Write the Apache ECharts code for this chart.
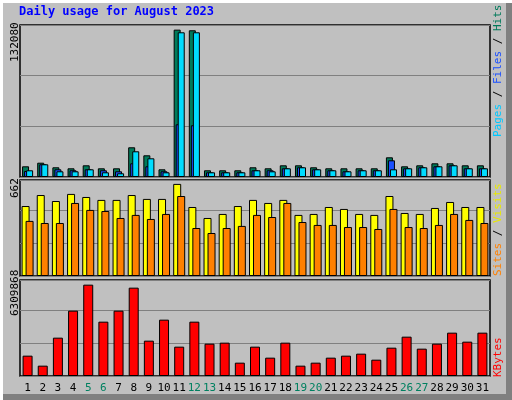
<!DOCTYPE html>
<html><head><meta charset="utf-8">
<script src="https://cdn.jsdelivr.net/npm/echarts@6/dist/echarts.min.js"></script>
<style>html,body{margin:0;padding:0;background:#fff}#c{width:512px;height:400px}</style>
</head><body><div id="c"></div>
<script>
const days = ['1','2','3','4','5','6','7','8','9','10','11','12','13','14','15','16','17','18','19','20','21','22','23','24','25','26','27','28','29','30','31'];
const weekendDays = ['5','6','12','13','19','20','26','27'];
const hits  = [9590,12820,8700,7800,10490,7800,7800,26630,19450,6900,132080,131520,6010,6010,6010,8700,7800,10490,10490,8700,7800,7800,7800,7800,17660,9590,10490,12280,12280,10490,10490];
const files = [5380,11390,6900,6010,6900,6010,5110,12280,9590,5110,47250,46350,4210,4210,4210,6010,6010,7800,8700,6900,6010,5110,6010,6010,14970,7800,8700,9590,10490,7800,7800];
const pages = [6010,11390,5110,5110,6900,4210,3320,23040,16760,4210,129720,129720,4210,4210,4210,6010,5110,7800,8700,6900,6010,5110,6010,6010,6900,7800,8700,9590,10490,7800,7800];
const visits = [503,582,539,590,568,547,547,582,554,554,662,496,417,446,503,547,525,547,439,446,496,482,446,439,575,453,446,489,532,496,496];
const sites  = [396,381,381,525,475,467,417,439,410,446,575,345,309,345,360,439,424,525,388,367,367,352,352,338,482,352,345,367,446,403,381];
const kbytes = [1405,714,2648,4514,6310,3754,4514,6103,2441,3892,2027,3754,2234,2303,921,2027,1267,2303,714,921,1267,1405,1543,1128,1957,2717,1888,2234,2994,2372,2994].map(v=>v*1000);
const maxLabels = ['132080','662','6309868'];
const title = 'Daily usage for August 2023';

const FONT = 'DejaVu Sans Mono';
const grids = [
  {left:20,right:22,top:25,height:152},
  {left:20,right:22,top:180,height:96},
  {left:20,right:22,top:280,height:96}
];
const maxes = [136250, 690, 6632000];
const intervals = [45717, 237.3, 2257000];
const chart = echarts.init(document.getElementById('c'));
const bs = {borderColor:'#000',borderWidth:1};
chart.setOption({
  animation:false,
  backgroundColor:'#ffffff',
  grid: grids.map(g=>Object.assign({show:true,backgroundColor:'#c0c0c0',borderColor:'#000',borderWidth:1.5},g)),
  xAxis: [0,1,2].map(i=>({type:'category',gridIndex:i,data:days,
    axisLine:{show:false},axisTick:{show:false},
    axisLabel:{show:i===2,fontFamily:FONT,fontSize:11,margin:7,interval:0,
      formatter:v=>weekendDays.includes(v)?'{w|'+v+'}':'{n|'+v+'}',
      rich:{w:{color:'#008060',fontFamily:FONT,fontSize:11},n:{color:'#000',fontFamily:FONT,fontSize:11}}}})),
  yAxis: [0,1,2].map(i=>({type:'value',gridIndex:i,min:0,max:maxes[i],interval:intervals[i],
    axisLine:{show:false},axisTick:{show:false},axisLabel:{show:false},
    splitLine:{lineStyle:{color:'#808080',width:1}}})),
  series:[
    {type:'bar',name:'Hits',xAxisIndex:0,yAxisIndex:0,data:hits,barWidth:7,barGap:'-71%',itemStyle:Object.assign({color:'#007a5a'},bs)},
    {type:'bar',name:'Files',xAxisIndex:0,yAxisIndex:0,data:files,barWidth:7,barGap:'-71%',itemStyle:Object.assign({color:'#1a4fff'},bs)},
    {type:'bar',name:'Pages',xAxisIndex:0,yAxisIndex:0,data:pages,barWidth:7,barGap:'-71%',itemStyle:Object.assign({color:'#00dcff'},bs)},
    {type:'bar',name:'Visits',xAxisIndex:1,yAxisIndex:1,data:visits,barWidth:8,barGap:'-50%',itemStyle:Object.assign({color:'#ffff00'},bs)},
    {type:'bar',name:'Sites',xAxisIndex:1,yAxisIndex:1,data:sites,barWidth:8,barGap:'-50%',itemStyle:Object.assign({color:'#ff8000'},bs)},
    {type:'bar',name:'KBytes',xAxisIndex:2,yAxisIndex:2,data:kbytes,barWidth:10,itemStyle:Object.assign({color:'#ff0000'},bs)}
  ],
  graphic:[
    {type:'rect',z:-10,shape:{x:3,y:3,width:509,height:397},style:{fill:'#808080'}},
    {type:'rect',z:-9,shape:{x:3,y:3,width:503,height:391},style:{fill:'#c0c0c0'}},
    {type:'text',left:19,top:6,style:{text:title,fill:'#0000ff',font:'bold 12px '+FONT}},
    {type:'text',x:10,y:62,rotation:Math.PI/2,style:{text:maxLabels[0],fill:'#000',font:'11px '+FONT}},
    {type:'text',x:10,y:198,rotation:Math.PI/2,style:{text:maxLabels[1],fill:'#000',font:'11px '+FONT}},
    {type:'text',x:10,y:316,rotation:Math.PI/2,style:{text:maxLabels[2],fill:'#000',font:'11px '+FONT}},
    {type:'text',x:493,y:137,rotation:Math.PI/2,style:{text:'{a|Pages} / {b|Files} / {c|Hits}',font:'11px '+FONT,
      rich:{a:{fill:'#00c8ff',font:'11px '+FONT},b:{fill:'#1a4fff',font:'11px '+FONT},c:{fill:'#007a5a',font:'11px '+FONT}}}},
    {type:'text',x:493,y:276,rotation:Math.PI/2,style:{text:'{a|Sites} / {b|Visits}',font:'11px '+FONT,
      rich:{a:{fill:'#ff8000',font:'11px '+FONT},b:{fill:'#e8e800',font:'11px '+FONT}}}},
    {type:'text',x:493,y:377,rotation:Math.PI/2,style:{text:'KBytes',fill:'#ff0000',font:'11px '+FONT}}
  ]
});
</script></body></html>
